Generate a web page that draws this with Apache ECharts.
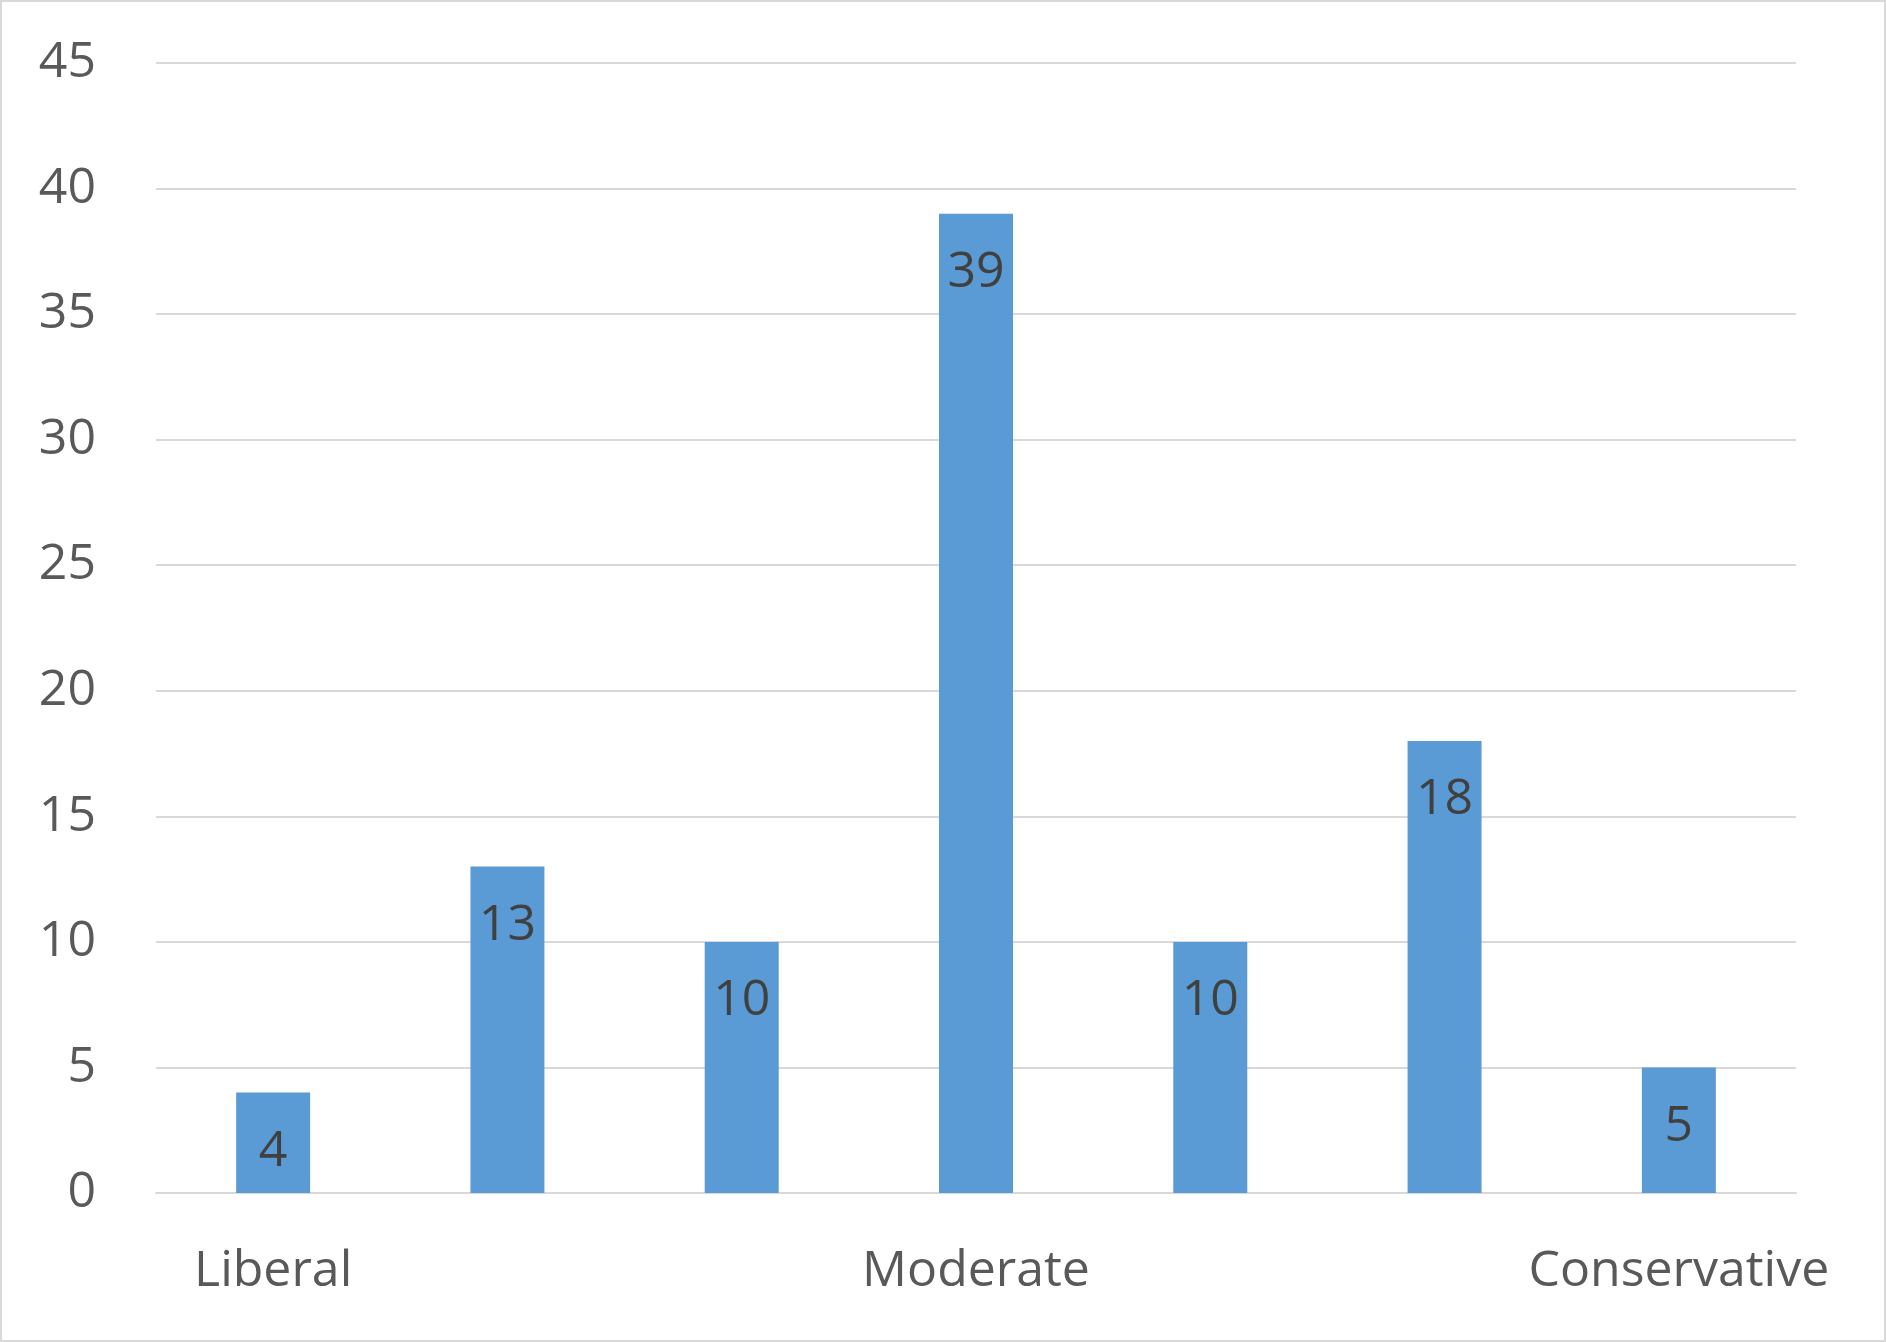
<!DOCTYPE html>
<html><head><meta charset="utf-8">
<script src="https://cdn.jsdelivr.net/npm/echarts@6/dist/echarts.min.js"></script>
<style>html,body{margin:0;padding:0;background:#fff}#c{width:1882px;height:1338px;border:2px solid #d9d9d9}</style>
</head><body><div id="c"></div>
<script>
const categories=["Liberal","","","Moderate","","","Conservative"];
const values=[4,13,10,39,10,18,5];
const chart=echarts.init(document.getElementById('c'));
chart.setOption({
 animation:false,
 grid:{left:154,right:88,top:61,bottom:147},
 xAxis:{type:'category',data:categories,axisTick:{show:false},
  axisLine:{lineStyle:{color:'#d9d9d9',width:2}},
  axisLabel:{interval:0,color:'#595959',fontSize:50,fontFamily:'Open Sans',margin:54}},
 yAxis:{type:'value',min:0,max:45,interval:5,
  axisLabel:{color:'#595959',fontSize:50,fontFamily:'Open Sans',margin:60},
  splitLine:{lineStyle:{color:'#d9d9d9',width:2}}},
 series:[{type:'bar',data:values,barWidth:74,itemStyle:{color:'#5b9bd5'},
  label:{show:true,position:'insideTop',color:'#404040',fontSize:50,fontFamily:'Open Sans',distance:34}}]
});
</script></body></html>
